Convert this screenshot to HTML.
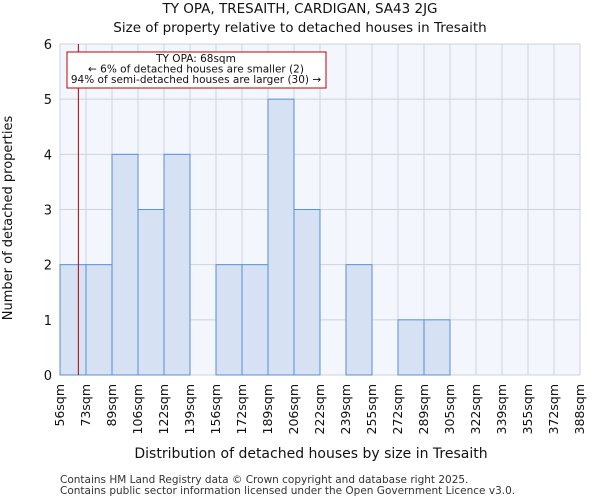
<!DOCTYPE html>
<html><head><meta charset="utf-8"><style>
body{margin:0;background:#fff;font-family:"DejaVu Sans","Liberation Sans",sans-serif;}
</style></head><body>
<svg width="600" height="500" xmlns="http://www.w3.org/2000/svg" id="chart" font-family="DejaVu Sans, Liberation Sans, sans-serif">
<text x="300" y="13" text-anchor="middle" font-size="13.5" fill="#111">TY OPA, TRESAITH, CARDIGAN, SA43 2JG</text>
<text x="300" y="32" text-anchor="middle" font-size="13.5" fill="#111">Size of property relative to detached houses in Tresaith</text>
<rect x="60" y="44" width="520" height="331" fill="#f3f6fd"/>
<g id="grid"></g><g id="bars"></g><g id="axes"></g>
<text x="311" y="458" text-anchor="middle" font-size="14" fill="#111">Distribution of detached houses by size in Tresaith</text>
<text transform="translate(12,218) rotate(-90)" text-anchor="middle" font-size="13" fill="#111">Number of detached properties</text>
<text x="60" y="483" font-size="10.5" fill="#333">Contains HM Land Registry data © Crown copyright and database right 2025.</text>
<text x="60" y="494" font-size="10.5" fill="#333">Contains public sector information licensed under the Open Government Licence v3.0.</text>
</svg>
<script>
const binLabels=["56sqm","73sqm","89sqm","106sqm","122sqm","139sqm","156sqm","172sqm","189sqm","206sqm","222sqm","239sqm","255sqm","272sqm","289sqm","305sqm","322sqm","339sqm","355sqm","372sqm","388sqm"];
const counts=[2,2,4,3,4,0,2,2,5,3,0,2,0,1,1,0,0,0,0,0];
const yTicks=[0,1,2,3,4,5,6];
const propertySize=68;
const binEdges=[56,73,89,106,122,139,156,172,189,206,222,239,255,272,289,305,322,339,355,372,388];
const NS="http://www.w3.org/2000/svg";
const X0=60,X1=580,Y0=375,Y1=44,YMAX=6;
const bw=(X1-X0)/counts.length;
const xi=i=>X0+i*bw;
const y=v=>Y0-(v/YMAX)*(Y0-Y1);
function mk(t,a,p){const e=document.createElementNS(NS,t);for(const k in a)e.setAttribute(k,a[k]);p.appendChild(e);return e;}
const grid=document.getElementById('grid'),bars=document.getElementById('bars'),axes=document.getElementById('axes');
yTicks.forEach(t=>{
 const l=mk('line',{x1:X0,x2:X1,y1:y(t),y2:y(t),stroke:'#ccd3df','stroke-width':1},grid);
 
 
 const tx=mk('text',{x:X0-8,y:y(t)+5,'text-anchor':'end','font-size':13,fill:'#111'},axes);
 tx.textContent=t;
 
 
});
binLabels.forEach((lab,i)=>{
 const l=mk('line',{x1:xi(i),x2:xi(i),y1:Y1,y2:Y0,stroke:'#ccd3df','stroke-width':1},grid);
 
 
 const tx=mk('text',{transform:`translate(${xi(i)+4},384) rotate(-90)`,'text-anchor':'end','font-size':12.5,fill:'#111'},axes);
 tx.textContent=lab;
 
 
});
counts.forEach((c,i)=>{
 if(c<=0)return;
 const r=mk('rect',{x:xi(i),y:y(c),width:bw,height:Y0-y(c),fill:'#d6e1f3',stroke:'#5b8fd6','stroke-width':1},bars);
 
 
});
let k=0;while(k<binEdges.length-2&&propertySize>binEdges[k+1])k++;
const px=xi(k)+bw*(propertySize-binEdges[k])/(binEdges[k+1]-binEdges[k]);
const ml=mk('line',{x1:px,x2:px,y1:Y1,y2:Y0,stroke:'#b00000','stroke-width':1},bars);


const bx=mk('rect',{x:67,y:52,width:259,height:36,fill:'#fff',stroke:'#c00000','stroke-width':1},bars);


["TY OPA: "+propertySize+"sqm","← 6% of detached houses are smaller (2)","94% of semi-detached houses are larger (30) →"].forEach((s,j)=>{
 const t=mk('text',{x:196,y:62+j*10.5,'text-anchor':'middle','font-size':10.5,fill:'#111'},bars);
 t.textContent=s;
 
 
});
</script>
</body></html>
